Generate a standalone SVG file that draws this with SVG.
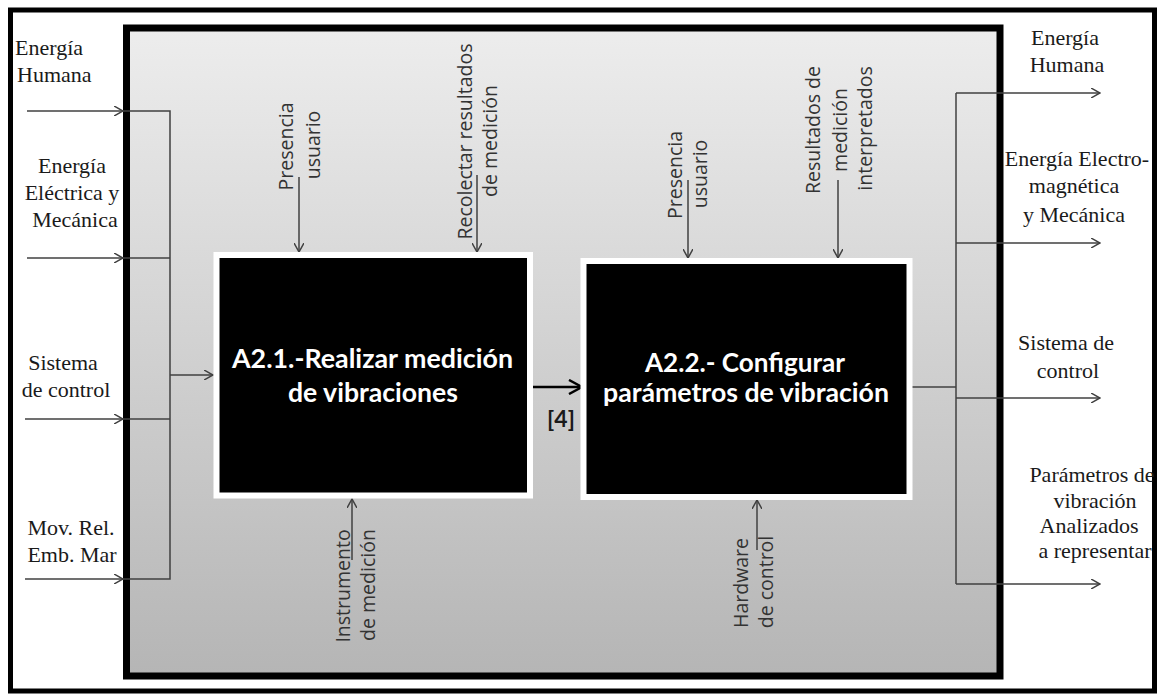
<svg xmlns="http://www.w3.org/2000/svg" width="1159" height="698" viewBox="0 0 1159 698">
<style>
.ser{font-family:"Liberation Serif","Times New Roman",serif;font-size:22px;fill:#1a1a1a}
.sans{font-family:"Open Sans","DejaVu Sans",sans-serif;font-size:19.5px;fill:#333;text-anchor:middle}
.bt{font-family:Lato,"Open Sans",sans-serif;font-weight:bold;font-size:26px;fill:#fff}
.ln{stroke:#404040;stroke-width:1.5;fill:none}
.mid{text-anchor:middle}
</style>
<defs>
<linearGradient id="bg" x1="0" y1="0" x2="0" y2="1">
<stop offset="0" stop-color="#ededed"/>
<stop offset="1" stop-color="#b5b5b5"/>
</linearGradient>
<marker id="arr" viewBox="0 0 10 10" refX="9" refY="5" markerWidth="10" markerHeight="10" markerUnits="userSpaceOnUse" orient="auto">
<path d="M0,0 L9,5 L0,10" fill="none" stroke="#404040" stroke-width="1.5"/>
</marker>
<marker id="arrB" viewBox="0 0 16 16" refX="14" refY="8" markerWidth="16" markerHeight="16" markerUnits="userSpaceOnUse" orient="auto">
<path d="M1,1 L14,8 L1,15" fill="none" stroke="#000" stroke-width="2.5"/>
</marker>
</defs>
<rect width="1159" height="698" fill="#fff"/>
<rect id="outer-frame" x="10.5" y="10" width="1144" height="681" fill="none" stroke="#000" stroke-width="5"/>
<rect id="inner-frame" x="126.5" y="28" width="873.5" height="648" fill="url(#bg)" stroke="#000" stroke-width="7"/>

<g id="connectors">
<line class="ln" x1="27" y1="111" x2="123" y2="111" marker-end="url(#arr)"/>
<line class="ln" x1="27" y1="258" x2="123" y2="258" marker-end="url(#arr)"/>
<line class="ln" x1="25" y1="419" x2="123" y2="419" marker-end="url(#arr)"/>
<line class="ln" x1="25" y1="579" x2="123" y2="579" marker-end="url(#arr)"/>
<polyline class="ln" points="123,111 170,111 170,579 123,579"/>
<line class="ln" x1="123" y1="258" x2="170" y2="258"/>
<line class="ln" x1="123" y1="419" x2="170" y2="419"/>
<line class="ln" x1="170" y1="375" x2="213" y2="375" marker-end="url(#arr)"/>

<line class="ln" x1="299" y1="177" x2="299" y2="252" marker-end="url(#arr)"/>
<line class="ln" x1="477" y1="175" x2="477" y2="252" marker-end="url(#arr)"/>
<line class="ln" x1="688" y1="180" x2="688" y2="258" marker-end="url(#arr)"/>
<line class="ln" x1="838" y1="180" x2="838" y2="258" marker-end="url(#arr)"/>
<line class="ln" x1="352" y1="560" x2="352" y2="499" marker-end="url(#arr)"/>
<line class="ln" x1="757" y1="550" x2="757" y2="500" marker-end="url(#arr)"/>

<line x1="530" y1="387" x2="582" y2="387" stroke="#000" stroke-width="2.5" marker-end="url(#arrB)"/>

<line class="ln" x1="912" y1="387" x2="956" y2="387"/>
<line class="ln" x1="956" y1="93" x2="956" y2="584"/>
<line class="ln" x1="956" y1="93" x2="1100" y2="93" marker-end="url(#arr)"/>
<line class="ln" x1="956" y1="243" x2="1100" y2="243" marker-end="url(#arr)"/>
<line class="ln" x1="956" y1="398" x2="1100" y2="398" marker-end="url(#arr)"/>
<line class="ln" x1="956" y1="584" x2="1100" y2="584" marker-end="url(#arr)"/>
</g>

<g id="node-a21">
<rect x="216.5" y="255" width="313.5" height="240.5" fill="#000" stroke="#fff" stroke-width="6"/>
<text class="bt" x="232" y="368" textLength="281" lengthAdjust="spacingAndGlyphs">A2.1.-Realizar medición</text>
<text class="bt" x="288" y="402" textLength="170" lengthAdjust="spacingAndGlyphs">de vibraciones</text>
</g>

<g id="node-a22">
<rect x="583.5" y="261" width="326" height="236" fill="#000" stroke="#fff" stroke-width="6"/>
<text class="bt" x="645" y="372" textLength="200" lengthAdjust="spacingAndGlyphs">A2.2.- Configurar</text>
<text class="bt" x="603" y="402" textLength="286" lengthAdjust="spacingAndGlyphs">parámetros de vibración</text>
</g>

<g id="label-4">
<text x="561" y="427" text-anchor="middle" style="font-family:Lato,'Open Sans',sans-serif;font-weight:bold;font-size:23px;fill:#1a1a1a">[4]</text>
</g>

<g id="inputs-left">
<text class="ser" x="15" y="55">Energía</text>
<text class="ser" x="17" y="82">Humana</text>
<text class="ser mid" x="72" y="173">Energía</text>
<text class="ser mid" x="72" y="200">Eléctrica y</text>
<text class="ser mid" x="75" y="227">Mecánica</text>
<text class="ser mid" x="63" y="370">Sistema</text>
<text class="ser mid" x="66" y="397">de control</text>
<text class="ser mid" x="71" y="535">Mov. Rel.</text>
<text class="ser mid" x="72" y="562">Emb. Mar</text>
</g>

<g id="outputs-right">
<text class="ser mid" x="1065" y="45">Energía</text>
<text class="ser mid" x="1067" y="72">Humana</text>
<text class="ser mid" x="1077" y="166">Energía Electro-</text>
<text class="ser mid" x="1074" y="193">magnética</text>
<text class="ser mid" x="1074" y="222">y Mecánica</text>
<text class="ser mid" x="1066" y="350">Sistema de</text>
<text class="ser mid" x="1068" y="378">control</text>
<text class="ser mid" x="1092" y="482">Parámetros de</text>
<text class="ser mid" x="1095" y="508">vibración</text>
<text class="ser mid" x="1089" y="533">Analizados</text>
<text class="ser mid" x="1095" y="558">a representar</text>
</g>

<g id="controls-mechanisms">
<text class="sans" transform="translate(293,146.5) rotate(-90)">Presencia</text>
<text class="sans" transform="translate(320,145) rotate(-90)">usuario</text>
<text class="sans" transform="translate(472,141.5) rotate(-90)">Recolectar resultados</text>
<text class="sans" transform="translate(497,141) rotate(-90)">de medición</text>
<text class="sans" transform="translate(682,175) rotate(-90)">Presencia</text>
<text class="sans" transform="translate(707,174) rotate(-90)">usuario</text>
<text class="sans" transform="translate(820,130) rotate(-90)">Resultados de</text>
<text class="sans" transform="translate(847,130) rotate(-90)">medición</text>
<text class="sans" transform="translate(872,128.5) rotate(-90)">interpretados</text>
<text class="sans" transform="translate(350,586) rotate(-90)">Instrumento</text>
<text class="sans" transform="translate(375,585) rotate(-90)">de medición</text>
<text class="sans" transform="translate(748,583) rotate(-90)">Hardware</text>
<text class="sans" transform="translate(773,582) rotate(-90)">de control</text>
</g>
</svg>
